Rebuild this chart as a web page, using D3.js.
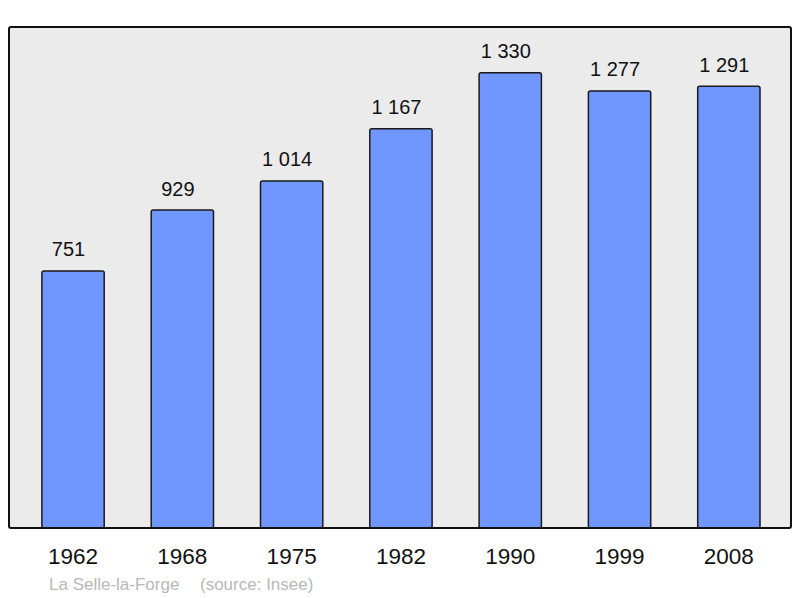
<!DOCTYPE html>
<html><head><meta charset="utf-8">
<script src="https://cdn.jsdelivr.net/npm/d3@7"></script>
<style>body{margin:0;background:#fff}svg{display:block;font-family:"Liberation Sans",Arial,sans-serif}</style>
</head><body><svg id="c" width="800" height="598"></svg>
<script>
const years = ["1962","1968","1975","1982","1990","1999","2008"];
const population = [751, 929, 1014, 1167, 1330, 1277, 1291];
const valueLabels = ["751","929","1 014","1 167","1 330","1 277","1 291"];
const commune = "La Selle-la-Forge";
const source = "(source: Insee)";

const svg = d3.select("#c");
const plot = {x0: 9, x1: 791, y0: 27, y1: 528};

svg.append("rect").attr("x", plot.x0).attr("y", plot.y0)
  .attr("width", plot.x1 - plot.x0).attr("height", plot.y1 - plot.y0)
  .attr("rx", 2).attr("fill", "#ebebeb").attr("stroke", "none");

const x = d3.scaleBand().domain(years).range([18.4, 783.5]).paddingInner(0.43).paddingOuter(0.215);
const y = d3.scaleLinear().domain([0, 1464]).range([plot.y1, plot.y0]);

svg.append("g").selectAll("rect").data(years).join("rect")
  .attr("x", d => x(d)).attr("width", x.bandwidth())
  .attr("y", (d, i) => y(population[i]))
  .attr("height", (d, i) => y(0) - y(population[i]))
  .attr("rx", 2).attr("fill", "#7097ff").attr("stroke", "#1a1a1a").attr("stroke-width", 1.5);

svg.append("g").selectAll("text").data(years).join("text")
  .attr("x", d => x(d) + x.bandwidth() / 2 - 4.5)
  .attr("y", (d, i) => y(population[i]) - 14.5)
  .attr("text-anchor", "middle").attr("font-size", 20).attr("fill", "#111")
  .text((d, i) => valueLabels[i]);

// frame on top
svg.append("rect").attr("x", plot.x0).attr("y", plot.y0)
  .attr("width", plot.x1 - plot.x0).attr("height", plot.y1 - plot.y0)
  .attr("rx", 2).attr("fill", "none").attr("stroke", "#111").attr("stroke-width", 2);

const xAxis = d3.axisBottom(x).tickSize(0).tickPadding(0);
const ax = svg.append("g").attr("transform", `translate(0,${plot.y1})`).call(xAxis);
ax.select(".domain").remove();
ax.selectAll("text").attr("dy", null).attr("y", 36).attr("font-size", 22.5)
  .attr("font-family", "Liberation Sans, Arial, sans-serif").attr("fill", "#111");

svg.append("text").attr("x", 49).attr("y", 590).attr("font-size", 17).attr("fill", "#b8b8b8").text(commune);
svg.append("text").attr("x", 200).attr("y", 590).attr("font-size", 17).attr("fill", "#b8b8b8").text(source);
</script></body></html>
